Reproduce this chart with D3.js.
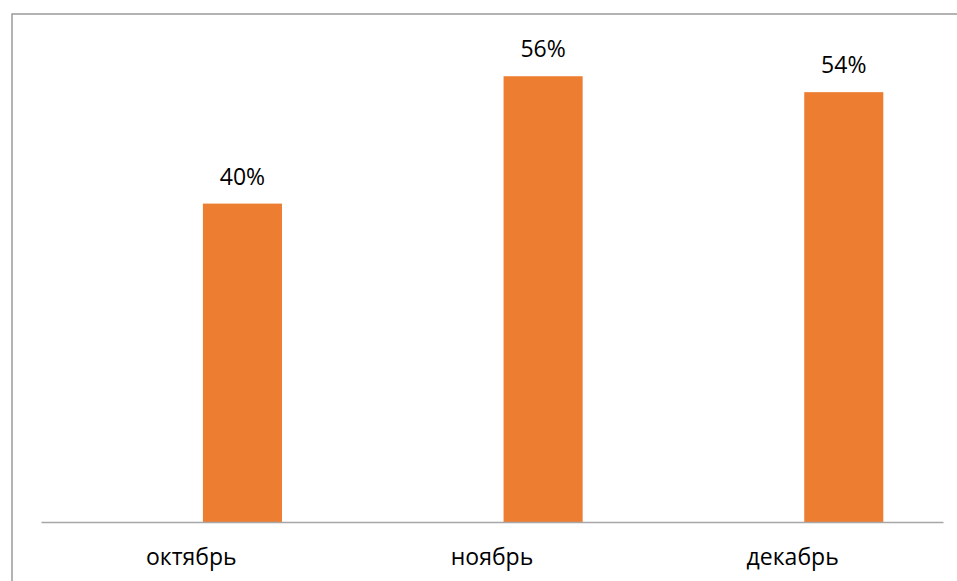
<!DOCTYPE html>
<html><head><meta charset="utf-8">
<script src="https://cdn.jsdelivr.net/npm/d3@7"></script>
<style>body{margin:0;background:#fff;}svg{display:block;}</style>
</head><body>
<script>
const categories = ["октябрь", "ноябрь", "декабрь"];
const values = [40, 56, 54];
const labels = ["40%", "56%", "54%"];

(function () {
const W = 957, H = 581;
const svg = d3.select("body").append("svg").attr("width", W).attr("height", H);

// outer chart frame (left and top visible)
svg.append("rect").attr("x", 12).attr("y", 14).attr("width", W + 20).attr("height", H + 20)
  .attr("fill", "none").attr("stroke", "#9a9a9a").attr("stroke-width", 1.5);

const plotLeft = 41, plotRight = 943, base = 522;
const x = d3.scaleBand().domain(categories).range([plotLeft, plotRight]);
const y = d3.scaleLinear().domain([0, 60]).range([base, base - 60 * 7.96]);

const bw = x.bandwidth();
const barW = bw * 0.263;
const barOff = bw * 0.17; // bar sits right of the category centre (second series slot)

svg.selectAll("rect.bar").data(values).join("rect").attr("class", "bar")
  .attr("x", (d, i) => x(categories[i]) + bw / 2 + barOff - barW / 2)
  .attr("y", d => y(d)).attr("width", barW).attr("height", d => y(0) - y(d))
  .attr("fill", "#ED7D31");

svg.selectAll("text.val").data(values).join("text").attr("class", "val")
  .attr("x", (d, i) => x(categories[i]) + bw / 2 + barOff)
  .attr("y", d => y(d) - 19)
  .attr("text-anchor", "middle").attr("font-family", "Open Sans, sans-serif")
  .attr("font-size", 23).attr("fill", "#000")
  .text((d, i) => labels[i]);

const ax = svg.append("g").attr("transform", `translate(0,${base})`)
  .call(d3.axisBottom(x).tickSize(0).tickPadding(27));
ax.select(".domain").attr("stroke", "#a6a6a6").attr("stroke-width", 1.5);
ax.selectAll("text").attr("font-family", "Open Sans, sans-serif").attr("font-size", 23).attr("fill", "#000");
})();
</script>
</body></html>
